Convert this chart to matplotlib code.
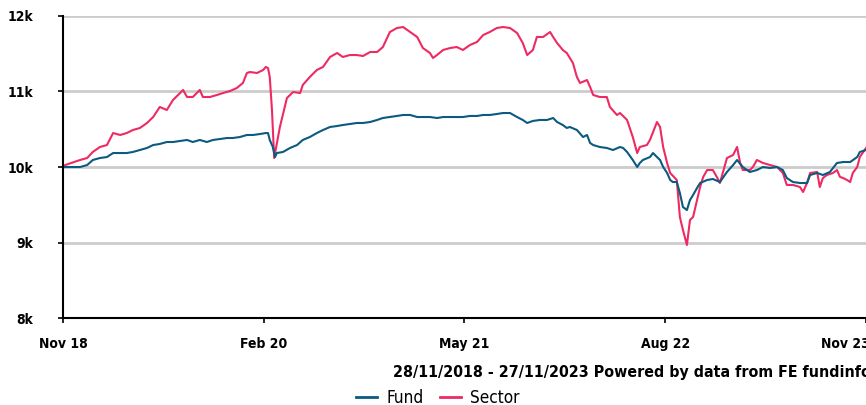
import numpy as np
import pandas as pd
import matplotlib
matplotlib.use('Agg')
import matplotlib.pyplot as plt
import matplotlib.dates as mdates
import matplotlib.transforms as mtransforms
from matplotlib import font_manager as fm

START = '2018-11-28'
END = '2023-11-27'

# days since 28/11/2018, value of 10k invested
sector_days = [0, 5, 39, 55, 68, 84, 100, 114, 130, 145, 159, 175, 191, 205, 220, 236, 250, 266, 273, 282,
               295, 311, 318, 334, 350, 364, 380, 395, 409, 418, 425, 441, 455, 461, 466, 470, 475, 480, 493, 509,
               523, 539, 545, 561, 577, 591, 607, 623, 636, 652, 668, 682, 698, 714, 727, 743, 759, 773, 789, 805,
               818, 834, 841, 850, 864, 880, 895, 909, 925, 941, 955, 970, 986, 1000, 1016, 1032, 1045, 1055, 1068, 1077,
               1091, 1107, 1114, 1123, 1136, 1145, 1159, 1168, 1175, 1191, 1198, 1205, 1220, 1236, 1243, 1259, 1266, 1282, 1295, 1305,
               1311, 1327, 1334, 1350, 1357, 1364, 1373, 1380, 1395, 1402, 1409, 1418, 1425, 1432, 1441, 1448, 1455, 1464, 1477, 1486,
               1493, 1509, 1523, 1532, 1539, 1545, 1561, 1568, 1577, 1591, 1607, 1623, 1636, 1645, 1659, 1675, 1682, 1691, 1698, 1714,
               1720, 1727, 1736, 1750, 1759, 1766, 1773, 1782, 1789, 1795, 1805, 1811, 1825]
sector_vals = [10000, 10026, 10093, 10119, 10200, 10265, 10291, 10450, 10424, 10450, 10490, 10517, 10583, 10662, 10795, 10755, 10887, 10980, 11020, 10927,
               10927, 11020, 10927, 10927, 10954, 10980, 11007, 11046, 11113, 11245, 11258, 11245, 11285, 11325, 11311, 11192, 10755, 10119, 10530, 10914,
               10993, 10980, 11086, 11192, 11285, 11325, 11457, 11510, 11457, 11483, 11483, 11470, 11523, 11523, 11589, 11788, 11841, 11854, 11788, 11722,
               11576, 11510, 11444, 11483, 11550, 11576, 11589, 11550, 11616, 11656, 11748, 11788, 11841, 11854, 11841, 11775, 11642, 11483, 11550, 11722,
               11722, 11788, 11722, 11642, 11550, 11510, 11377, 11192, 11113, 11152, 11060, 10954, 10927, 10927, 10795, 10689, 10715, 10623, 10397, 10185,
               10265, 10291, 10358, 10596, 10530, 10265, 10053, 9921, 9828, 9338, 9166, 8967, 9298, 9338, 9563, 9735, 9868, 9960, 9960, 9868,
               9788, 10119, 10159, 10265, 10053, 9960, 9960, 10000, 10093, 10053, 10026, 10000, 9921, 9762, 9762, 9735, 9669, 9788, 9921, 9934,
               9735, 9854, 9894, 9921, 9960, 9868, 9854, 9828, 9801, 9921, 10000, 10132, 10252]

fund_days = [0, 39, 55, 68, 84, 100, 114, 130, 145, 159, 175, 191, 205, 220, 236, 250, 266, 282, 295, 311,
             327, 341, 357, 373, 386, 402, 418, 432, 448, 461, 466, 470, 477, 482, 486, 500, 516, 532, 545, 561,
             577, 591, 607, 623, 636, 652, 668, 682, 698, 714, 727, 743, 759, 773, 789, 805, 818, 834, 850, 864,
             880, 895, 909, 925, 941, 955, 970, 986, 1000, 1016, 1032, 1045, 1055, 1068, 1084, 1100, 1114, 1123, 1136, 1145,
             1152, 1168, 1182, 1191, 1198, 1205, 1220, 1236, 1250, 1266, 1273, 1282, 1295, 1305, 1311, 1318, 1334, 1341, 1350, 1357,
             1364, 1373, 1380, 1386, 1395, 1402, 1409, 1418, 1425, 1432, 1441, 1448, 1464, 1477, 1493, 1509, 1523, 1532, 1545, 1561,
             1577, 1591, 1607, 1623, 1636, 1645, 1659, 1675, 1691, 1698, 1714, 1727, 1743, 1759, 1773, 1789, 1805, 1811, 1825]
fund_vals = [10000, 10000, 10026, 10093, 10119, 10132, 10185, 10185, 10185, 10199, 10225, 10252, 10291, 10305, 10331, 10331, 10344, 10358, 10331, 10358,
             10331, 10358, 10371, 10384, 10384, 10397, 10424, 10424, 10437, 10450, 10450, 10358, 10265, 10132, 10185, 10199, 10252, 10291, 10358, 10397,
             10450, 10490, 10530, 10543, 10556, 10570, 10583, 10583, 10596, 10623, 10649, 10662, 10676, 10689, 10689, 10662, 10662, 10662, 10649, 10662,
             10662, 10662, 10662, 10676, 10676, 10689, 10689, 10702, 10715, 10715, 10662, 10623, 10583, 10610, 10623, 10623, 10649, 10596, 10556, 10517,
             10530, 10490, 10397, 10424, 10318, 10291, 10265, 10252, 10225, 10265, 10252, 10199, 10093, 10000, 10053, 10093, 10132, 10185, 10132, 10093,
             10000, 9921, 9828, 9801, 9801, 9656, 9470, 9430, 9563, 9629, 9722, 9788, 9828, 9841, 9801, 9934, 10026, 10093, 10000, 9934,
             9960, 10000, 9987, 10000, 9960, 9854, 9801, 9788, 9788, 9894, 9921, 9894, 9934, 10053, 10066, 10066, 10132, 10199, 10225]

tick_dates = ['2018-11-28', '2020-02-28', '2021-05-28', '2022-08-28', '2023-11-27']
y_ticks = [8000, 9000, 10000, 11000, 12000]
y_labels = ['8k', '9k', '10k', '11k', '12k']
caption = '28/11/2018 - 27/11/2023 Powered by data from FE fundinfo'

FUND_COL = '#0b5a80'
SECTOR_COL = '#ee2a62'

# look for a narrow font, the original uses a condensed DIN-like face
family, stretch = 'DejaVu Sans', 'normal'
for f in fm.fontManager.ttflist:
    st = str(f.stretch)
    if 'Condensed' in f.name or 'Narrow' in f.name or st in ('condensed', 'semi-condensed', '500', '600'):
        family, stretch = f.name, f.stretch
        break
plt.rcParams['font.family'] = [family, 'DejaVu Sans']
plt.rcParams['font.stretch'] = stretch

start = pd.Timestamp(START)
sector_x = start + pd.to_timedelta(sector_days, unit='D')
fund_x = start + pd.to_timedelta(fund_days, unit='D')

fig = plt.figure(figsize=(8.66, 4.05), dpi=100)
ax = fig.add_axes([0.0727, 0.2148, 0.9273, 0.7457])

ax.plot(sector_x, sector_vals, color=SECTOR_COL, lw=1.5, label='Sector', zorder=3)
ax.plot(fund_x, fund_vals, color=FUND_COL, lw=1.5, label='Fund', zorder=4)

ax.set_xlim(pd.Timestamp(START), pd.Timestamp(END))
ax.set_ylim(8000, 12000)
ax.set_yticks(y_ticks)
ax.set_yticklabels(y_labels)
ax.set_xticks(pd.to_datetime(tick_dates))
ax.xaxis.set_major_formatter(mdates.DateFormatter('%b %y'))

ax.grid(axis='y', color='#cccccc', lw=2)
ax.set_axisbelow(True)
for s in ['top', 'right']:
    ax.spines[s].set_visible(False)
for s in ['left', 'bottom']:
    ax.spines[s].set_linewidth(1.5)
    ax.spines[s].set_color('black')
    ax.spines[s].set_zorder(5)

ax.tick_params(axis='both', length=3.6, width=1.2, labelsize=11, colors='black')
ax.tick_params(axis='x', pad=10)
ax.tick_params(axis='y', pad=18)
for lab in ax.get_xticklabels() + ax.get_yticklabels():
    lab.set_fontweight('bold')

cap = fig.text(393 / 866, 0.08, caption, fontsize=11.5, fontweight='bold', ha='left', va='center')

handles, labels = ax.get_legend_handles_labels()
leg = fig.legend(handles[::-1], labels[::-1], loc='center', bbox_to_anchor=(0.506, 0.018), ncol=2,
                 frameon=False, fontsize=11.5, handlelength=1.3, handletextpad=0.6, columnspacing=1.0)
for h in leg.get_lines():
    h.set_linewidth(2)

# size the texts so their widths follow the original
fig.canvas.draw()
r = fig.canvas.get_renderer()
k = 478 / cap.get_window_extent(r).width
cap.set_fontsize(11.5 * k)
xl = ax.get_xticklabels()
k2 = 49 / xl[0].get_window_extent(r).width
ax.tick_params(axis='both', labelsize=11 * k2)
for t in leg.get_texts():
    t.set_fontsize(11.5 * k * 1.08)
fig.canvas.draw()
# the last label is pushed inside the edge as in the original
xl = ax.get_xticklabels()
xl[-1].set_horizontalalignment('right')
xl[-1].set_transform(xl[-1].get_transform() + mtransforms.ScaledTranslation(0.04, 0, fig.dpi_scale_trans))

fig.savefig('out.png', dpi=100)
